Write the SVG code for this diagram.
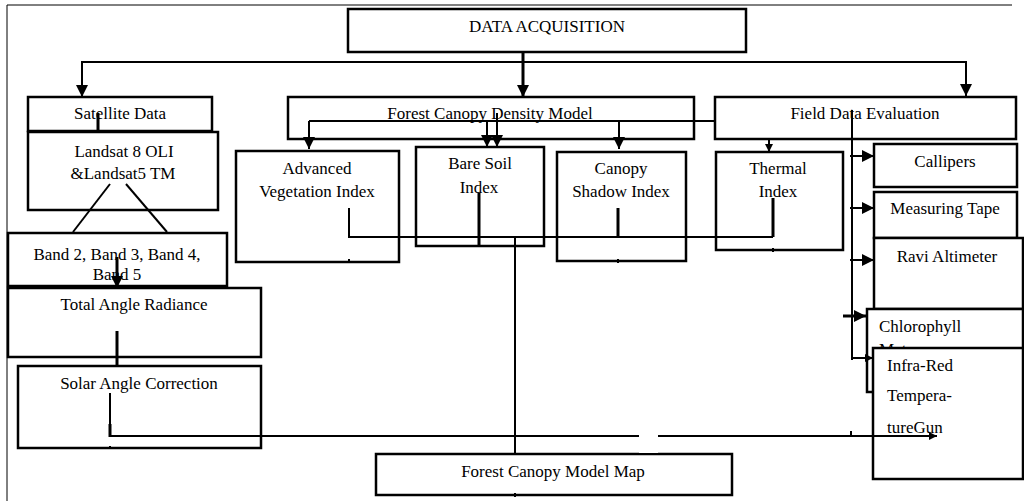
<svg xmlns="http://www.w3.org/2000/svg" width="1024" height="501" viewBox="0 0 1024 501">
<style>
.box{fill:#fff;stroke:#000;stroke-width:2.5}
.t{font-family:"Liberation Serif","Times New Roman",serif;font-size:17px;fill:#000;text-anchor:middle}
.tl{font-family:"Liberation Serif","Times New Roman",serif;font-size:17px;fill:#000}
.c{fill:none;stroke:#000;stroke-width:2}
.ct{fill:none;stroke:#000;stroke-width:3}
</style>
<defs>
<marker id="ah" markerUnits="userSpaceOnUse" markerWidth="12" markerHeight="12" refX="12" refY="6" orient="auto">
<path d="M0,0 L12,6 L0,12 z" fill="#000"/>
</marker>
<marker id="as" markerUnits="userSpaceOnUse" markerWidth="8" markerHeight="8" refX="8" refY="4" orient="auto">
<path d="M0,0 L8,4 L0,8 z" fill="#000"/>
</marker>
</defs>
<rect width="1024" height="501" fill="#fff"/>
<path d="M7,501 V5 H1012" fill="none" stroke="#000" stroke-width="1"/>

<g id="n-data-acquisition"><rect class="box" x="348" y="9" width="398" height="43"/><text class="t" x="547" y="32">DATA ACQUISITION</text></g>
<g id="n-satellite"><rect class="box" x="28" y="97" width="184" height="34"/><text class="t" x="120" y="119">Satellite Data</text></g>
<g id="n-landsat"><rect class="box" x="28" y="132" width="190" height="78"/><text class="t" x="124" y="157">Landsat 8 OLI</text><text class="t" x="123" y="179">&amp;Landsat5 TM</text></g>
<g id="n-band"><rect class="box" x="8" y="233" width="219" height="53"/><text class="t" x="117" y="260">Band 2, Band 3, Band 4,</text><text class="t" x="117" y="280">Band 5</text></g>
<g id="n-tar"><rect class="box" x="8" y="288" width="253" height="69"/><text class="t" x="134" y="310">Total Angle Radiance</text></g>
<g id="n-sac"><rect class="box" x="18" y="366" width="243" height="82"/><text class="t" x="139" y="389">Solar Angle Correction</text></g>
<g id="n-fcd"><rect class="box" x="288" y="97" width="406" height="42"/><text class="t" x="490" y="119">Forest Canopy Density Model</text></g>
<g id="n-fde"><rect class="box" x="715" y="97" width="301" height="42"/><text class="t" x="865" y="119">Field Data Evaluation</text></g>
<g id="n-avi"><rect class="box" x="236" y="151" width="163" height="111"/><text class="t" x="317" y="174">Advanced</text><text class="t" x="317" y="197">Vegetation Index</text></g>
<g id="n-bsi"><rect class="box" x="416" y="147" width="128" height="99"/><text class="t" x="480" y="169">Bare Soil</text><text class="t" x="479" y="193">Index</text></g>
<g id="n-csi"><rect class="box" x="557" y="152" width="129" height="109"/><text class="t" x="621" y="174">Canopy</text><text class="t" x="621" y="197">Shadow Index</text></g>
<g id="n-ti"><rect class="box" x="716" y="152" width="127" height="98"/><text class="t" x="778" y="174">Thermal</text><text class="t" x="778" y="197">Index</text></g>
<g id="n-callipers"><rect class="box" x="874" y="144" width="143" height="43"/><text class="t" x="945" y="167">Callipers</text></g>
<g id="n-tape"><rect class="box" x="874" y="192" width="143" height="46"/><text class="t" x="945" y="214">Measuring Tape</text></g>
<g id="n-ravi"><rect class="box" x="874" y="238" width="149" height="71"/><text class="t" x="947" y="262">Ravi Altimeter</text></g>
<g id="n-chloro"><rect class="box" x="867" y="309" width="156" height="83"/><text class="tl" x="879" y="332">Chlorophyll</text><text class="tl" x="879" y="355">Meter</text></g>
<g id="n-infrared"><rect class="box" x="873" y="348" width="150" height="131"/><text class="tl" x="887" y="371">Infra-Red</text><text class="tl" x="887" y="401">Tempera-</text><text class="tl" x="887" y="433">tureGun</text></g>
<g id="n-fcmm"><rect class="box" x="376" y="454" width="356" height="41"/><text class="t" x="553" y="477">Forest Canopy Model Map</text></g>

<g id="connectors">
<path class="ct" d="M523,52 V97" marker-end="url(#ah)"/>
<path class="c" d="M82,97 V62 H966 V96" marker-end="url(#ah)"/>
<path class="c" d="M82,62 V97" marker-end="url(#ah)"/>
<path class="ct" d="M98,113 V131"/>
<path class="c" d="M110,184 L73,232"/>
<path class="c" d="M126,184 L167,232"/>
<path class="ct" d="M117,257 V288" marker-end="url(#ah)"/>
<path class="ct" d="M117,331 V366"/>
<path class="c" d="M110,393 V436 H937" marker-end="url(#as)"/>
<path class="ct" d="M110,424 V437"/>
<path class="c" d="M309,121 H715"/>
<path class="c" d="M309,121 V149" marker-end="url(#ah)"/>
<path class="c" d="M487,121 V147" marker-end="url(#ah)"/>
<path class="c" d="M497,113 V147" marker-end="url(#ah)"/>
<path class="c" d="M619,121 V149" marker-end="url(#ah)"/>
<path class="c" d="M769,139 V152" marker-end="url(#as)"/>
<path class="c" d="M349,208 V237 H773"/>
<path class="ct" d="M773,198 V237"/>
<path class="ct" d="M479,193 V247"/>
<path class="ct" d="M618,208 V237"/>
<path class="c" d="M515,237 V454"/>
<path class="c" d="M852,110 V360"/>
<path class="c" d="M850,156 H874" marker-end="url(#ah)"/>
<path class="c" d="M850,208 H874" marker-end="url(#ah)"/>
<path class="c" d="M850,260 H874" marker-end="url(#ah)"/>
<path class="ct" d="M843,316 H866" marker-end="url(#ah)"/>
<path class="c" d="M851,358 H873" marker-end="url(#as)"/>
<path class="c" d="M349,259 V263"/>
<path class="c" d="M618,259 V263"/>
<path class="c" d="M773,248 V252"/>
<path class="c" d="M110,446 V449"/>
<path class="c" d="M515,493 V497"/>
<path class="c" d="M851,431 V436"/>
</g>
<rect x="639" y="434" width="19" height="19" fill="#fff"/>
</svg>
